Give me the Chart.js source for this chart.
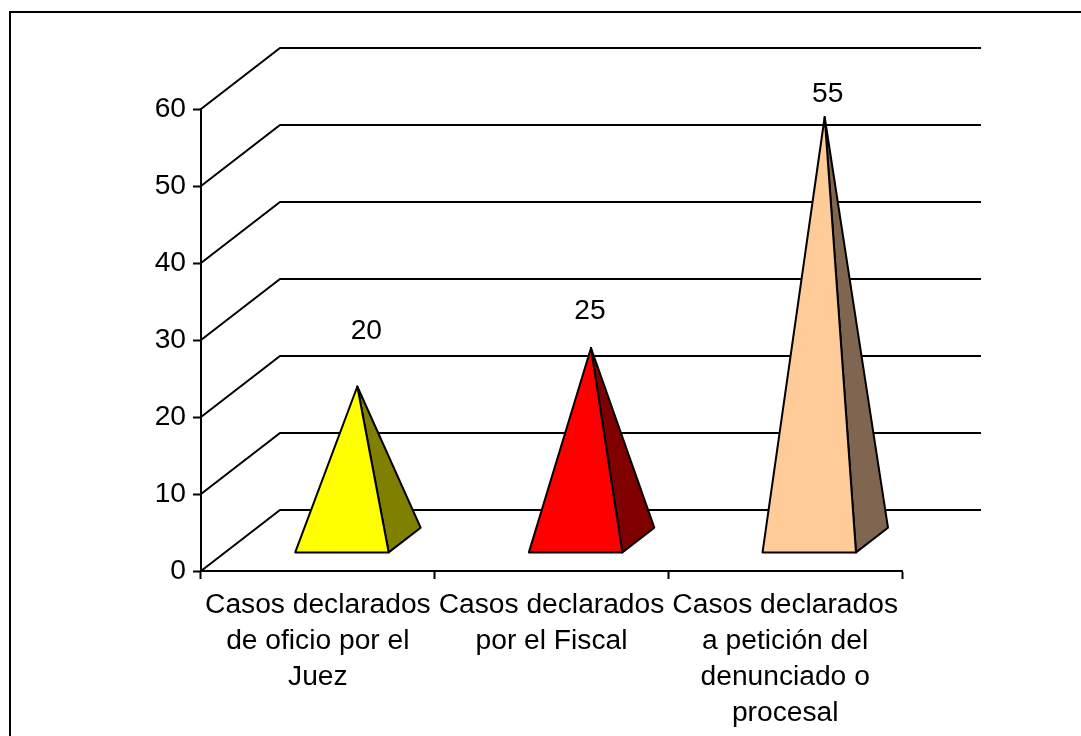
<!DOCTYPE html>
<html>
<head>
<meta charset="utf-8">
<style>html,body{margin:0;padding:0;background:#fff;overflow:hidden}canvas{display:block}</style>
<script src="https://cdn.jsdelivr.net/npm/chart.js@4"></script>
</head>
<body>
<div style="width:1081px;height:736px;position:relative"><canvas id="c" width="1081" height="736"></canvas></div>
<script>
const categories = [
  ["Casos declarados", "de oficio por el", "Juez"],
  ["Casos declarados", "por el Fiscal"],
  ["Casos declarados", "a petición del", "denunciado o", "procesal"]
];
const values = [20, 25, 55];
const frontColors = ["#FFFF00", "#FF0000", "#FFCC99"];
const sideColors = ["#808000", "#800000", "#806650"];

const FONT = '"Liberation Sans", Arial, sans-serif';
const FONT_SIZE = 28.2;
const DEPTH = {x: 79, y: -61};
const FRONT = 0.305, BACK = 0.71, MID = 0.5;
const LABEL_SHIFT = [{x: 9, y: -55}, {x: -1, y: -37}, {x: 3, y: -23}];

const pyramids = {
  id: 'pyramids',
  beforeDraw(chart) {
    const ctx = chart.ctx;
    ctx.save();
    ctx.fillStyle = '#fff';
    ctx.fillRect(0, 0, chart.width, chart.height);
    ctx.strokeStyle = '#000';
    ctx.lineWidth = 2;
    ctx.strokeRect(10, 12, chart.width + 20, chart.height + 20);
    ctx.restore();
  },
  beforeDatasetsDraw(chart) {
    const ctx = chart.ctx, y = chart.scales.y, a = chart.chartArea;
    ctx.save();
    ctx.strokeStyle = '#000';
    ctx.lineWidth = 2;
    y.ticks.forEach(t => {
      const p = Math.round(y.getPixelForValue(t.value));
      ctx.beginPath();
      ctx.moveTo(a.left, p);
      ctx.lineTo(a.left + DEPTH.x, p + DEPTH.y);
      ctx.lineTo(a.right + DEPTH.x, p + DEPTH.y);
      ctx.stroke();
    });
    ctx.restore();
  },
  beforeDatasetDraw(chart, args) {
    const ctx = chart.ctx, meta = chart.getDatasetMeta(args.index), a = chart.chartArea;
    const ds = chart.data.datasets[args.index];
    ctx.save();
    ctx.strokeStyle = '#000';
    ctx.lineWidth = 2;
    ctx.lineJoin = 'round';
    meta.data.forEach((bar, i) => {
      const hw = bar.width / 2;
      const fy = a.bottom + DEPTH.y * FRONT, fdx = DEPTH.x * FRONT;
      const by = a.bottom + DEPTH.y * BACK, bdx = DEPTH.x * BACK;
      const apex = {x: bar.x + DEPTH.x * MID, y: bar.y + DEPTH.y * MID};
      const fl = {x: bar.x + fdx - hw, y: fy}, fr = {x: bar.x + fdx + hw, y: fy};
      const br = {x: bar.x + bdx + hw, y: by};
      const tri = (p, q, col) => {
        ctx.beginPath();
        ctx.moveTo(apex.x, apex.y);
        ctx.lineTo(p.x, p.y);
        ctx.lineTo(q.x, q.y);
        ctx.closePath();
        ctx.fillStyle = col;
        ctx.fill();
        ctx.stroke();
      };
      tri(fr, br, sideColors[i]);
      tri(fl, fr, bar.options.backgroundColor);
      ctx.fillStyle = '#000';
      ctx.font = FONT_SIZE + 'px ' + FONT;
      ctx.textAlign = 'center';
      ctx.textBaseline = 'middle';
      ctx.fillText(String(ds.data[i]), apex.x + LABEL_SHIFT[i].x, apex.y + LABEL_SHIFT[i].y);
    });
    ctx.restore();
    return false;
  }
};

new Chart(document.getElementById('c'), {
  type: 'bar',
  data: {
    labels: categories,
    datasets: [{
      data: values,
      backgroundColor: frontColors,
      categoryPercentage: 0.4,
      barPercentage: 1
    }]
  },
  plugins: [pyramids],
  options: {
    responsive: false,
    animation: false,
    events: [],
    layout: {padding: {left: 0, top: 109, right: 179, bottom: 0}},
    plugins: {legend: {display: false}, title: {display: false}, tooltip: {enabled: false}},
    scales: {
      x: {
        afterFit(s) { s.height = 165; },
        grid: {drawOnChartArea: false, tickLength: 8, tickWidth: 2, tickColor: '#000'},
        border: {color: '#000', width: 2},
        ticks: {
          autoSkip: false, maxRotation: 0, minRotation: 0, color: '#000', padding: 8,
          font: {family: FONT, size: FONT_SIZE, lineHeight: 1.277}
        }
      },
      y: {
        min: 0, max: 60,
        afterFit(s) { s.width = 201; },
        grid: {drawOnChartArea: false, tickLength: 8, tickWidth: 2, tickColor: '#000'},
        border: {color: '#000', width: 2},
        ticks: {
          stepSize: 10, color: '#000', padding: 7,
          font: {family: FONT, size: FONT_SIZE}
        }
      }
    }
  }
});
</script>
</body>
</html>
